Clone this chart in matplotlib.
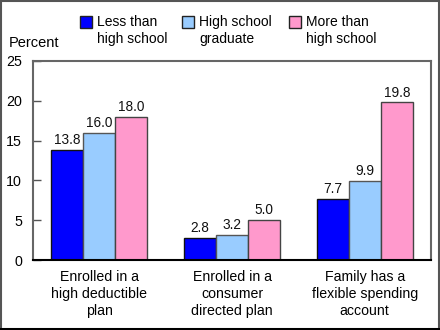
import matplotlib
matplotlib.use("Agg")
import matplotlib.pyplot as plt
from matplotlib.patches import Rectangle
import numpy as np

plt.rcParams['font.family'] = ['Liberation Sans', 'DejaVu Sans']

categories = ["Enrolled in a\nhigh deductible\nplan",
              "Enrolled in a\nconsumer\ndirected plan",
              "Family has a\nflexible spending\naccount"]
series_names = ["Less than\nhigh school", "High school\ngraduate", "More than\nhigh school"]
less_than_hs = [13.8, 2.8, 7.7]
hs_graduate = [16.0, 3.2, 9.9]
more_than_hs = [18.0, 5.0, 19.8]
y_ticks = [0, 5, 10, 15, 20, 25]

colors = ["#0000FF", "#99CCFF", "#FF99CC"]
edges = ["#111111", "#555555", "#444444"]

fig = plt.figure(figsize=(4.4, 3.3), dpi=100)
ax = fig.add_axes([33 / 440, 70 / 330, 398 / 440, 199 / 330])

x = np.arange(len(categories))
w = 0.242
for i, vals in enumerate([less_than_hs, hs_graduate, more_than_hs]):
    pos = x + (i - 1) * w
    ax.bar(pos, vals, width=w, color=colors[i], edgecolor=edges[i], linewidth=1.0, zorder=2)
    for px, v in zip(pos, vals):
        ax.text(px, v + 0.35, f"{v:.1f}", ha="center", va="bottom", fontsize=9.8, color="#111111")

ax.set_xlim(-0.5, 2.5)
ax.set_ylim(0, 25)
ax.set_yticks(y_ticks)
ax.set_yticklabels([str(t) for t in y_ticks], fontsize=10.3)
ax.tick_params(axis="y", direction="in", length=6, width=1, color="#555555", pad=8)
ax.set_xticks(x)
ax.set_xticklabels(categories, fontsize=10.2, linespacing=1.3)
ax.tick_params(axis="x", length=0, pad=7)
for side in ["left", "top", "right"]:
    ax.spines[side].set_color("#666666")
    ax.spines[side].set_linewidth(1.5)
ax.spines["bottom"].set_color("#000000")
ax.spines["bottom"].set_linewidth(1.5)

fig.text(9 / 440, 1 - 43 / 330, "Percent", fontsize=10.5, va="center", ha="left")

# Legend
leg_x = [80, 182, 289]
for lx, name, c, ec in zip(leg_x, series_names, colors, edges):
    fig.patches.append(Rectangle((lx / 440, 1 - 28 / 330), 12 / 440, 12 / 330,
                                 transform=fig.transFigure, facecolor=c,
                                 edgecolor="#222222", linewidth=1.0))
    fig.text((lx + 17) / 440, 1 - 15 / 330, name, fontsize=10, va="top", ha="left",
             linespacing=1.25)

# Outer frame
fig.patches.append(Rectangle((0.5 / 440, 1.5 / 330), 438 / 440, 327.5 / 330,
                             transform=fig.transFigure, fill=False,
                             edgecolor="#555555", linewidth=1.5))
fig.patches.append(Rectangle((0, 0), 1, 2.5 / 330, transform=fig.transFigure,
                             facecolor="#000000", edgecolor="none"))

fig.savefig("out.png", dpi=100)
